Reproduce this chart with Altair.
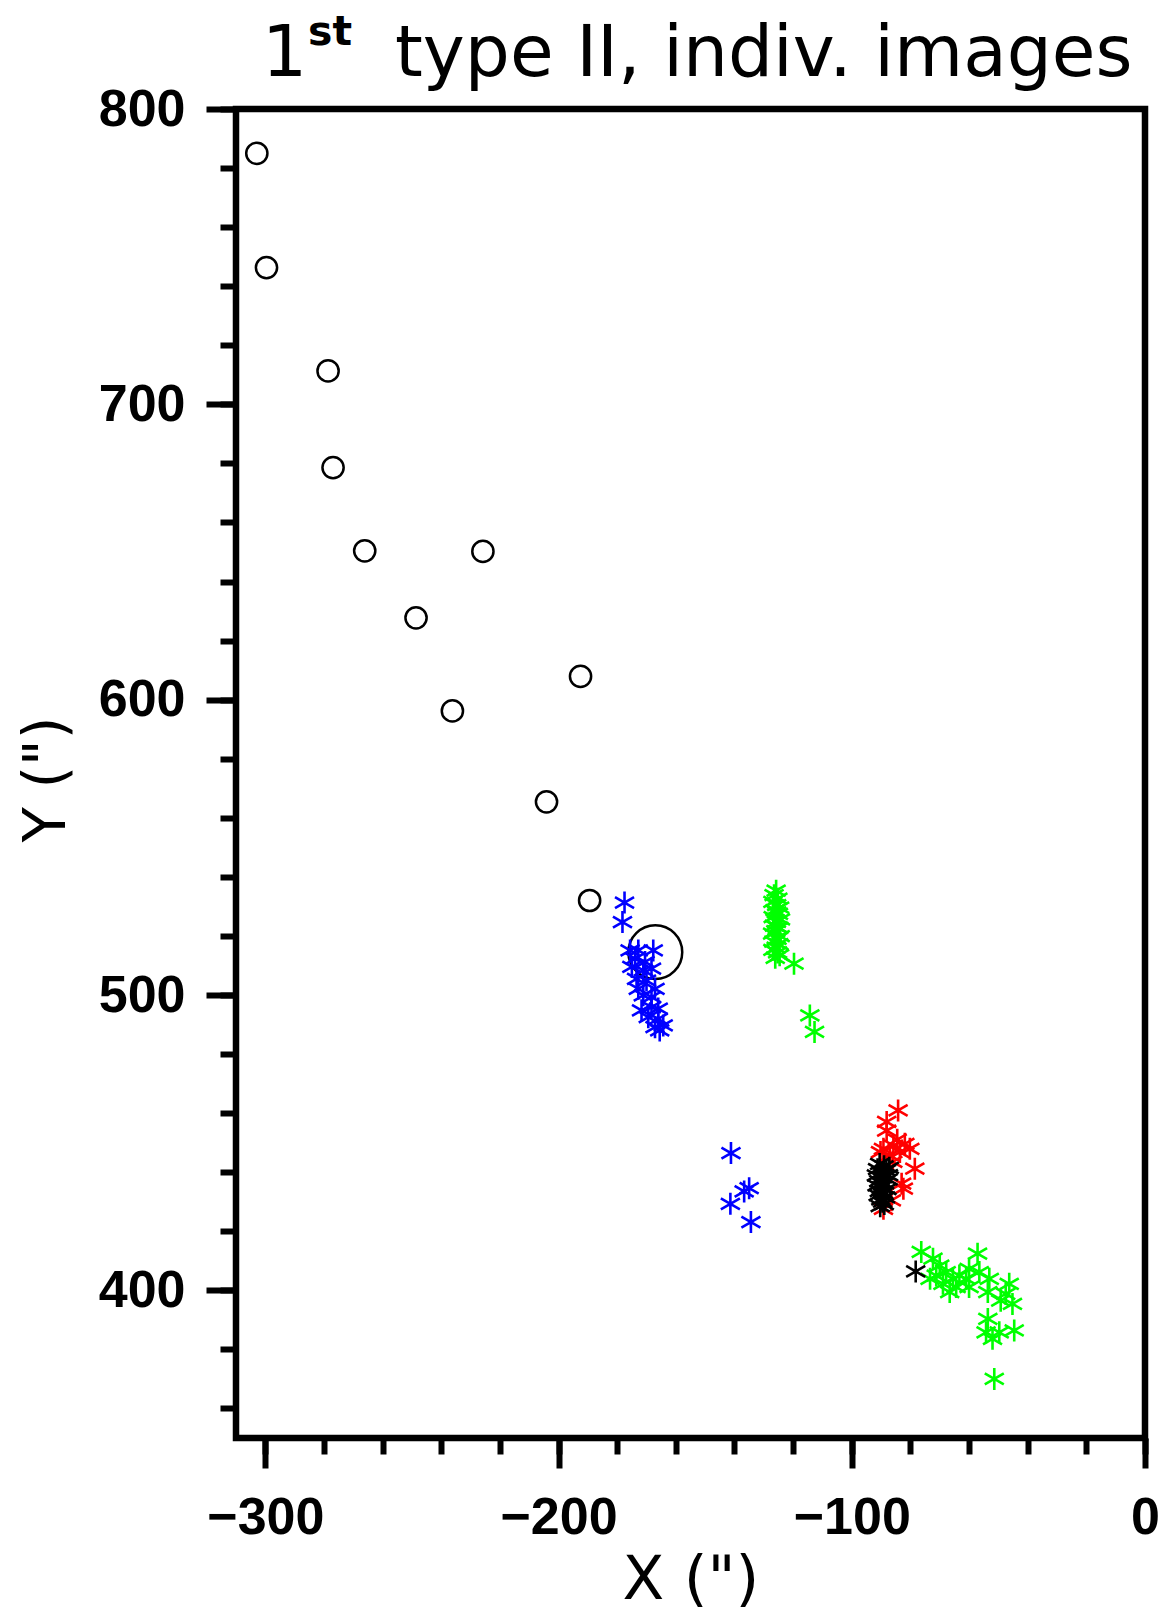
import altair as alt
import pandas as pd

# ---------------- data ----------------
circ_x = [-302.9, -299.6, -278.6, -276.9, -266.1, -225.8, -248.6, -236.2, -192.5, -204.1, -189.4]
circ_y = [785.0, 746.3, 711.3, 678.6, 650.4, 650.2, 627.7, 596.2, 607.9, 565.4, 532.0]

big_x = [-167.0]
big_y = [514.5]

blue_x = [-177.5, -178.2, -175.6, -172.8, -167.7, -173.9, -170.5, -175.0, -171.1, -168.3,
          -173.4, -170.0, -167.1, -172.8, -171.1, -168.3, -171.7, -168.3, -166.0, -169.4,
          -166.0, -165.5, -167.1, -164.3,
          -141.2, -135.0, -136.7, -141.4, -134.4]
blue_y = [531.3, 524.7, 515.1, 515.1, 515.1, 512.3, 511.2, 509.5, 508.3, 508.9,
          505.5, 504.9, 502.1, 502.1, 499.9, 499.3, 494.8, 495.9, 495.4, 492.5,
          491.9, 488.0, 489.1, 489.7,
          446.5, 434.6, 433.5, 429.3, 423.1]

green_x = [-125.8, -126.5, -125.2, -126.9, -125.6, -124.6, -126.2, -125.0, -126.8, -124.3,
           -125.7, -126.4, -124.8, -125.9, -127.0, -124.4, -125.5, -126.6, -124.9, -125.8,
           -126.9, -125.3, -124.6, -126.1, -125.6, -125.4,
           -119.7, -114.3, -112.7,
           -76.3, -72.3, -57.1, -70.0, -71.2, -67.8, -65.5, -63.3, -61.0, -68.9,
           -64.4, -60.0, -73.3, -66.6, -53.1, -53.6, -46.3, -47.5, -45.2, -49.2,
           -56.5, -60.0, -53.6, -54.2, -52.0, -49.7, -44.6, -51.4]
green_y = [535.3, 533.8, 532.6, 531.5, 530.4, 529.6, 528.7, 527.5, 526.4, 525.6,
           524.8, 523.5, 522.7, 521.6, 520.8, 519.9, 519.0, 518.1, 517.2, 516.0,
           515.3, 514.4, 513.5, 512.6, 528.0, 523.0,
           510.6, 493.1, 487.5,
           413.0, 410.7, 412.4, 408.4, 405.0, 406.2, 403.9, 405.0, 403.9, 402.2,
           401.1, 401.1, 403.9, 399.4, 403.9, 399.4, 402.2, 398.8, 395.4, 396.5,
           406.2, 407.3, 390.3, 385.8, 383.6, 385.8, 386.4, 370.0]

red_x = [-84.2, -88.1, -88.1, -81.9, -85.8, -89.2, -83.6, -80.2, -87.0, -90.2,
         -78.5, -83.0, -82.4, -89.2, -86.0, -84.5, -86.5]
red_y = [460.9, 457.0, 454.1, 449.6, 449.0, 447.9, 446.8, 447.9, 445.7, 446.8,
         441.2, 436.1, 434.4, 427.6, 443.5, 451.0, 430.5]

black_x = [-90.5, -89.0, -91.2, -88.2, -90.0, -91.6, -89.3, -87.6, -90.8, -88.8,
           -91.4, -89.9, -88.0, -90.6, -89.2, -91.0, -88.5, -90.1, -89.5, -88.9,
           -90.3, -87.5, -87.2, -89.6, -78.2]
black_y = [442.8, 442.0, 441.0, 440.6, 439.8, 438.9, 438.3, 437.6, 437.0, 436.2,
           435.5, 434.9, 434.3, 433.6, 432.9, 432.2, 431.5, 430.8, 430.0, 429.2,
           428.5, 439.0, 441.5, 436.0, 406.4]

x_major = [-300, -200, -100, 0]
x_minor = list(range(-300, 1, 20))
y_major = [400, 500, 600, 700, 800]
y_minor = list(range(360, 801, 20))

series_names = ["blue", "green", "red", "black"]
series_colors = ["#0000ff", "#00ff00", "#ff0000", "#000000"]

# ---------------- frames ----------------
df_circ = pd.DataFrame({"x": circ_x, "y": circ_y})
df_big = pd.DataFrame({"x": big_x, "y": big_y})
df_ast = pd.DataFrame({
    "x": blue_x + green_x + red_x + black_x,
    "y": blue_y + green_y + red_y + black_y,
    "g": (["blue"] * len(blue_x) + ["green"] * len(green_x)
          + ["red"] * len(red_x) + ["black"] * len(black_x)),
})

xs = alt.Scale(domain=[-310, 0], nice=False, zero=False)
ys = alt.Scale(domain=[350, 800], nice=False, zero=False)

LABEL_FONT = "Liberation Sans"
TITLE_FONT = "DejaVu Sans"

major_x = alt.Axis(values=x_major, orient="bottom", tickSize=30, tickWidth=6, tickColor="black",
                   domain=False, grid=False, labelFont=LABEL_FONT, labelFontWeight="bold",
                   labelFontSize=52, labelPadding=24, labelColor="black", labelFlush=False,
                   labelOverlap=False, title='X (")', titleFont=TITLE_FONT, titleFontSize=61,
                   titleFontWeight="normal", titleColor="black", titleY=160,
                   titleBaseline="alphabetic")
major_y = alt.Axis(values=y_major, orient="left", tickSize=30, tickWidth=6, tickColor="black",
                   domain=False, grid=False, labelFont=LABEL_FONT, labelFontWeight="bold",
                   labelFontSize=52, labelPadding=21, labelColor="black", labelFlush=False,
                   labelOverlap=False, labelBaseline="middle", title='Y (")', titleFont=TITLE_FONT,
                   titleFontSize=58, titleFontWeight="normal", titleColor="black", titleX=-172,
                   titleY=670, titleAngle=-90, titleBaseline="alphabetic", titleAlign="center")
minor_x = alt.Axis(values=x_minor, orient="bottom", tickSize=16, tickWidth=6, tickColor="black",
                   domain=False, grid=False, labels=False)
minor_y = alt.Axis(values=y_minor, orient="left", tickSize=16, tickWidth=6, tickColor="black",
                   domain=False, grid=False, labels=False)

ASTERISK = "M0,-1L0,1M-0.866,-0.5L0.866,0.5M-0.866,0.5L0.866,-0.5"

circles = alt.Chart(df_circ).mark_point(
    shape="circle", size=450, strokeWidth=2.5, color="black", filled=False, opacity=1
).encode(
    x=alt.X("x:Q", scale=xs, axis=major_x),
    y=alt.Y("y:Q", scale=ys, axis=major_y),
)

big = alt.Chart(df_big).mark_point(
    shape="circle", size=2900, strokeWidth=2.5, color="black", filled=False, opacity=1
).encode(
    x=alt.X("x:Q", scale=xs, axis=minor_x, title=None),
    y=alt.Y("y:Q", scale=ys, axis=minor_y, title=None),
)

stars = alt.Chart(df_ast).mark_point(
    shape=ASTERISK, size=484, strokeWidth=2.6, filled=False, opacity=1
).encode(
    x=alt.X("x:Q", scale=xs, axis=None),
    y=alt.Y("y:Q", scale=ys, axis=None),
    color=alt.Color("g:N", scale=alt.Scale(domain=series_names, range=series_colors), legend=None),
)

title_df = pd.DataFrame({"a": [0]})
t1 = alt.Chart(title_df).mark_text(
    text="1", font=TITLE_FONT, fontSize=71, align="left", baseline="alphabetic", color="black"
).encode(x=alt.value(26), y=alt.value(-33))
t2 = alt.Chart(title_df).mark_text(
    text="st", font=TITLE_FONT, fontSize=41, fontWeight="bold", align="left",
    baseline="alphabetic", color="black"
).encode(x=alt.value(72), y=alt.value(-64))
t3 = alt.Chart(title_df).mark_text(
    text="type II, indiv. images", font=TITLE_FONT, fontSize=71, align="left",
    baseline="alphabetic", color="black"
).encode(x=alt.value(159), y=alt.value(-33))

chart = alt.layer(circles, big, stars, t1, t2, t3).resolve_axis(
    x="independent", y="independent"
).properties(
    width=909, height=1329,
    padding={"left": 228, "top": 101, "right": 15, "bottom": 174},
    autosize=alt.AutoSizeParams(type="none"),
).configure_view(stroke="black", strokeWidth=6.5)

chart.save("out.html", embed_options={"renderer": "svg", "actions": False})
